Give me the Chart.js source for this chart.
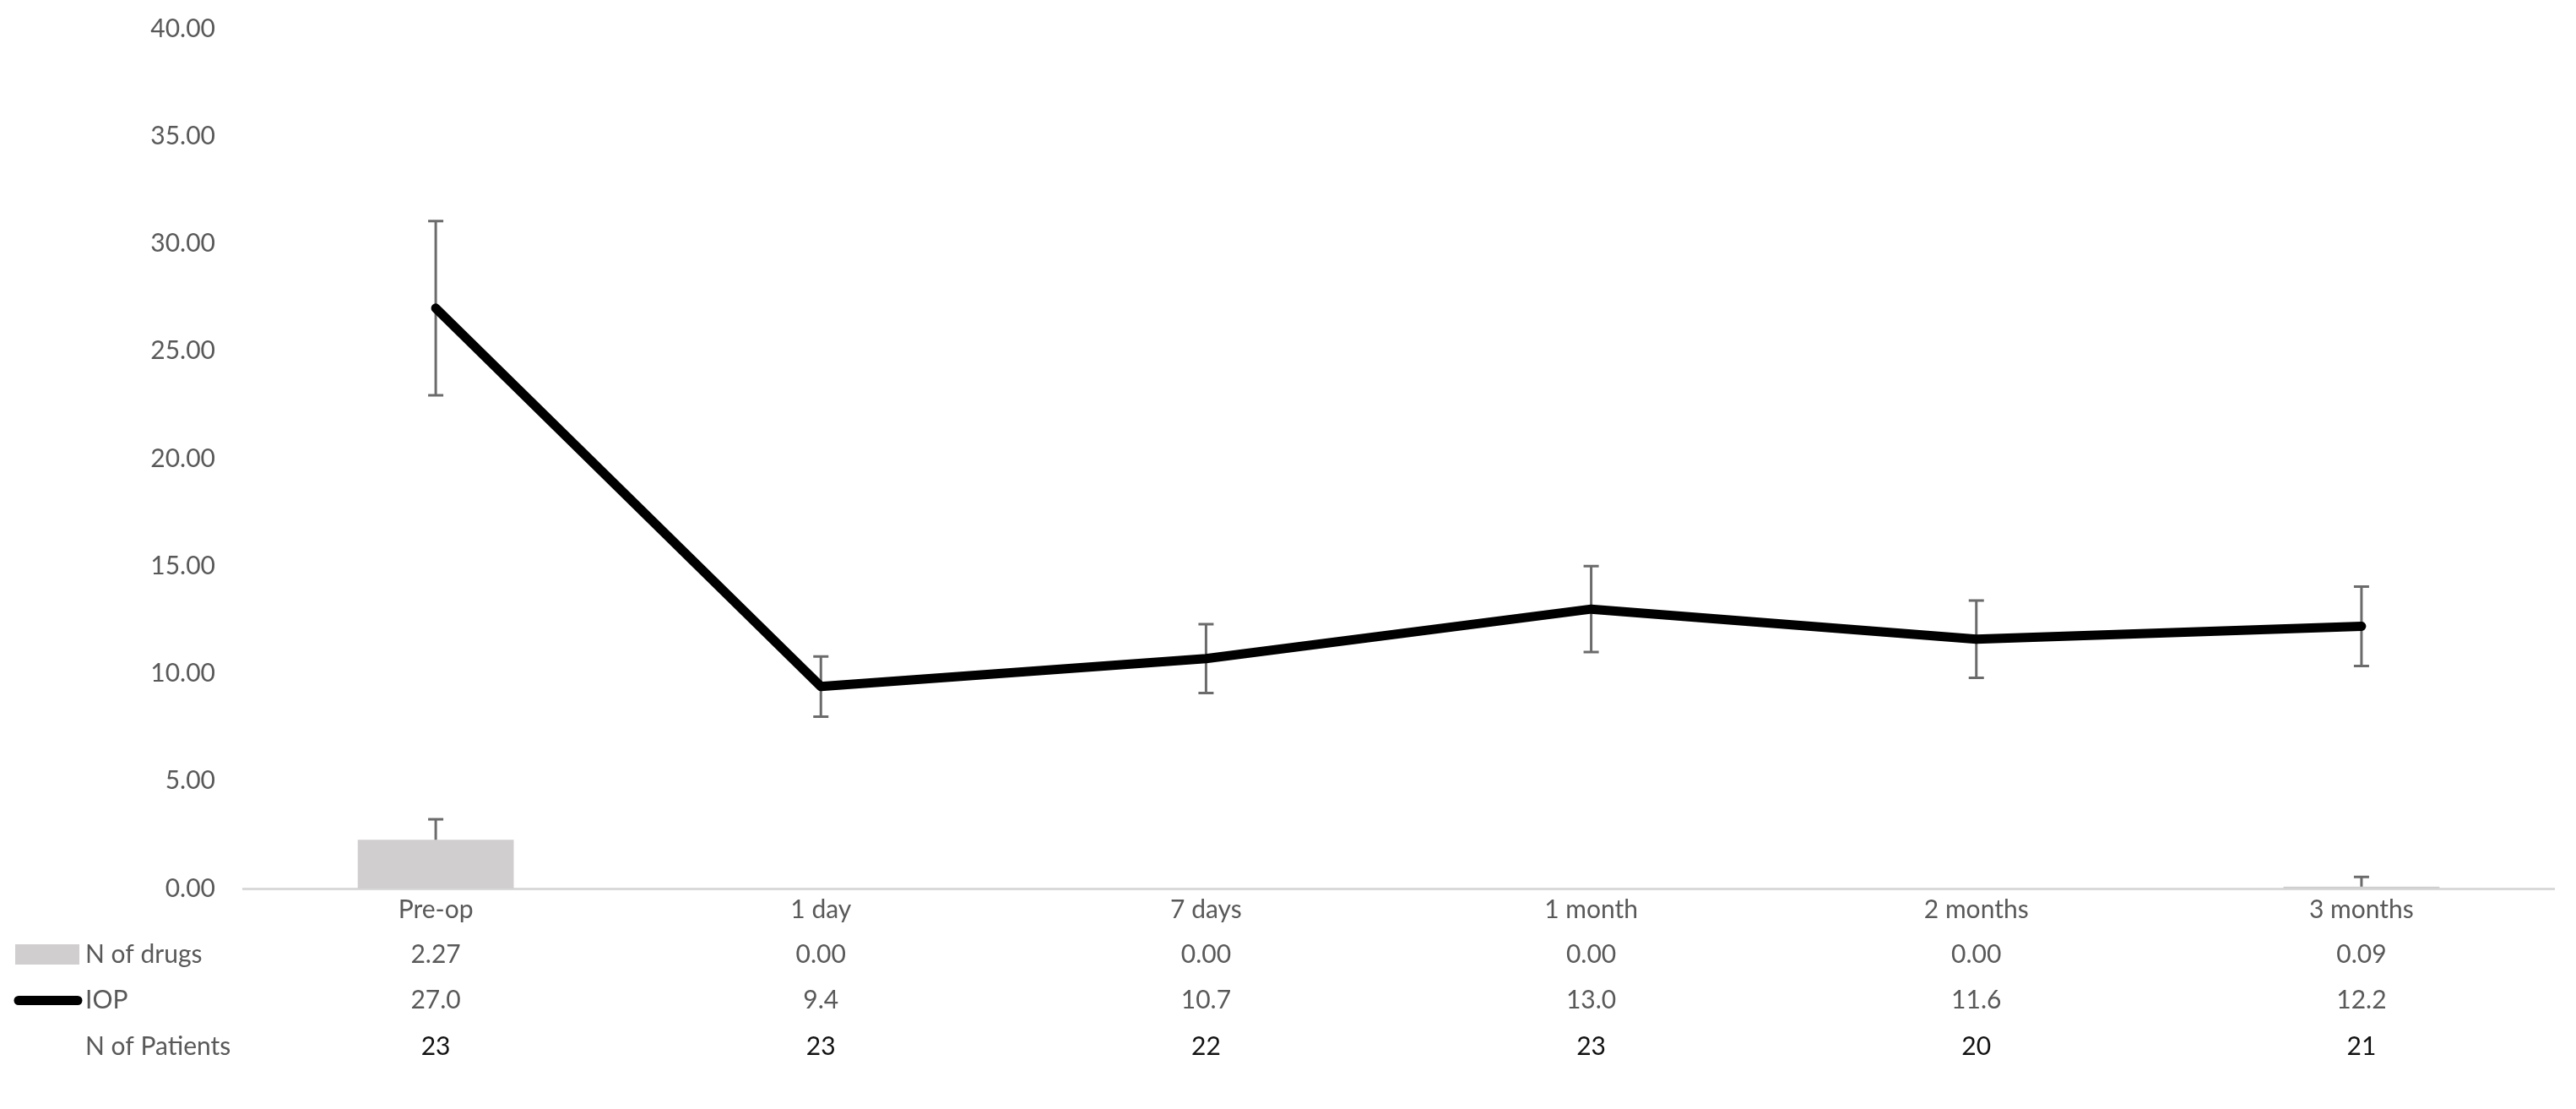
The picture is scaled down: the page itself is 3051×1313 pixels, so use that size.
<!DOCTYPE html>
<html>
<head>
<meta charset="utf-8">
<script src="https://cdn.jsdelivr.net/npm/chart.js@4.4.0/dist/chart.umd.min.js"></script>
<style>
    html, body { margin: 0; padding: 0; background: #fff; }
</style>
</head>
<body>
<canvas id="chart" width="3051" height="1313"></canvas>
<script>
const categories = ['Pre-op', '1 day', '7 days', '1 month', '2 months', '3 months'];
const nOfDrugs = [2.27, 0.00, 0.00, 0.00, 0.00, 0.09];
const nOfDrugsErr = [0.95, 0, 0, 0, 0, 0.45];   // only the "+" side is shown
const iop = [27.0, 9.4, 10.7, 13.0, 11.6, 12.2];
const iopErr = [4.05, 1.4, 1.6, 2.0, 1.8, 1.85];
const nOfPatients = [23, 23, 22, 23, 20, 21];
const yTicks = [0, 5, 10, 15, 20, 25, 30, 35, 40];

const FONT = 'Lato, "Open Sans", sans-serif';
const GREY_TEXT = '#595959';
const BAR_COLOR = '#d0cece';

// error bars, drawn right after the bars (line comes on top)
const errorBars = {
    id: 'errorBars',
    afterDatasetDraw(chart, args) {
        if (args.index !== 1) return;
        const ctx = chart.ctx;
        const x = chart.scales.x, y = chart.scales.y;
        const cap = 9;
        ctx.save();
        ctx.strokeStyle = '#6b6b6b';
        ctx.lineWidth = 3;
        const seg = (px, v1, v2, capTop, capBottom) => {
            const y1 = y.getPixelForValue(v1), y2 = y.getPixelForValue(v2);
            ctx.beginPath();
            ctx.moveTo(px, y1); ctx.lineTo(px, y2);
            if (capTop) { ctx.moveTo(px - cap, y2); ctx.lineTo(px + cap, y2); }
            if (capBottom) { ctx.moveTo(px - cap, y1); ctx.lineTo(px + cap, y1); }
            ctx.stroke();
        };
        categories.forEach((c, i) => {
            const px = x.getPixelForValue(i);
            if (nOfDrugsErr[i] > 0) seg(px, nOfDrugs[i], nOfDrugs[i] + nOfDrugsErr[i], true, false);
            seg(px, iop[i] - iopErr[i], iop[i] + iopErr[i], true, true);
        });
        ctx.restore();
    }
};

// data table under the axis, with legend keys
const dataTable = {
    id: 'dataTable',
    afterDraw(chart) {
        const ctx = chart.ctx;
        const x = chart.scales.x;
        const base = chart.chartArea.bottom;
        const rows = [
            { label: 'N of drugs', key: 'bar', values: nOfDrugs.map(v => v.toFixed(2)), color: GREY_TEXT },
            { label: 'IOP', key: 'line', values: iop.map(v => v.toFixed(1)), color: GREY_TEXT },
            { label: 'N of Patients', key: null, values: nOfPatients.map(String), color: '#111' }
        ];
        ctx.save();
        ctx.font = '30px ' + FONT;
        ctx.textBaseline = 'middle';
        rows.forEach((row, r) => {
            const ry = base + 78 + r * 54.5;
            if (row.key === 'bar') {
                ctx.fillStyle = BAR_COLOR;
                ctx.fillRect(18, ry - 12, 76, 24);
            } else if (row.key === 'line') {
                ctx.strokeStyle = '#000';
                ctx.lineWidth = 11;
                ctx.lineCap = 'round';
                ctx.beginPath();
                ctx.moveTo(22, ry); ctx.lineTo(92, ry);
                ctx.stroke();
            }
            ctx.fillStyle = GREY_TEXT;
            ctx.textAlign = 'left';
            ctx.fillText(row.label, 101, ry);
            ctx.fillStyle = row.color;
            ctx.textAlign = 'center';
            row.values.forEach((v, i) => ctx.fillText(v, x.getPixelForValue(i), ry));
        });
        ctx.restore();
    }
};

new Chart(document.getElementById('chart').getContext('2d'), {
    data: {
        labels: categories,
        datasets: [{
            type: 'line',
            label: 'IOP',
            data: iop,
            borderColor: '#000',
            borderWidth: 11,
            borderCapStyle: 'round',
            borderJoinStyle: 'round',
            pointRadius: 0,
            tension: 0,
            order: 0
        }, {
            type: 'bar',
            label: 'N of drugs',
            data: nOfDrugs,
            backgroundColor: BAR_COLOR,
            barPercentage: 0.405,
            categoryPercentage: 1,
            order: 1
        }]
    },
    plugins: [errorBars, dataTable],
    options: {
        responsive: false,
        devicePixelRatio: 1,
        animation: false,
        layout: { padding: { top: 34, right: 26, left: 0, bottom: 0 } },
        plugins: {
            legend: { display: false },
            tooltip: { enabled: false }
        },
        scales: {
            x: {
                offset: true,
                grid: { display: false, drawTicks: false },
                border: { display: true, color: '#d9d9d9', width: 3 },
                ticks: { color: GREY_TEXT, font: { family: FONT, size: 30 }, padding: 7 },
                afterFit(scale) { scale.height = 261; }
            },
            y: {
                min: 0,
                max: 40,
                grid: { display: false, drawTicks: false },
                border: { display: false },
                afterBuildTicks(scale) { scale.ticks = yTicks.map(v => ({ value: v })); },
                ticks: {
                    color: GREY_TEXT,
                    font: { family: FONT, size: 30 },
                    padding: 33,
                    callback: v => Number(v).toFixed(2)
                },
                afterFit(scale) {
                    scale.width = 288;
                    scale.paddingTop = 0;
                    scale.paddingBottom = 0;
                }
            }
        }
    }
});
</script>
</body>
</html>
